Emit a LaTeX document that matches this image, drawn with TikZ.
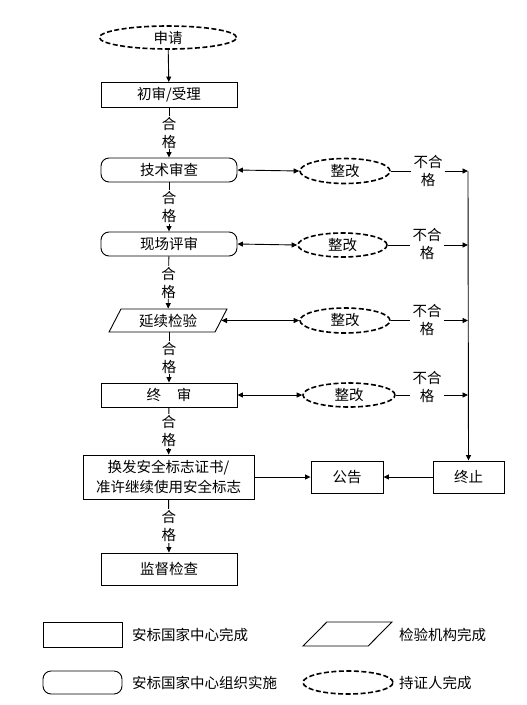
\documentclass[tikz,border=0pt]{standalone}
\usepackage{fontspec}
\newfontfamily\cjk{Noto Sans CJK SC}
\usetikzlibrary{shapes.geometric,arrows.meta}
\tikzset{
  x=1pt,y=-1pt,
  every node/.style={font=\cjk\fontsize{14.5}{18}\selectfont, inner sep=0pt},
  box/.style={draw, line width=0.9pt, rectangle, minimum width=136pt, minimum height=24pt},
  rbox/.style={draw, line width=0.9pt, rectangle, rounded corners=8pt, minimum width=136pt, minimum height=24pt},
  dell/.style={draw, ellipse, line width=1.6pt, dash pattern=on 5pt off 2.5pt, minimum width=90pt, minimum height=24pt},
  para/.style={draw, line width=0.9pt, trapezium, trapezium stretches=true, trapezium left angle=64, trapezium right angle=116, minimum height=23pt, inner sep=1pt},
  conn/.style={line width=0.9pt},
  arr/.style={conn, -{Triangle[length=5.5pt,width=5pt]}},
  darr/.style={conn, {Triangle[length=5.5pt,width=5pt]}-{Triangle[length=5.5pt,width=5pt]}},
  lab/.style={fill=white, align=center, inner sep=1pt},
  nq/.style={align=center, inner sep=2pt},
}
\begin{document}
\begin{tikzpicture}
\useasboundingbox (0,0) rectangle (527,705);
% main column
\node[dell, minimum width=137pt, minimum height=23pt] (apply) at (168,37.5) {申请};
\node[box, minimum height=25pt] (init) at (169,95) {初审/受理};
\node[rbox] (tech) at (169,170) {技术审查};
\node[rbox] (site) at (169,244) {现场评审};
\node[para, minimum width=118pt] (cont) at (168,320.5) {延续检验};
\node[box] (final) at (169,395) {终\hspace{1.1em}审};
\node[box, minimum width=171pt, minimum height=44pt, align=center, font=\cjk\fontsize{14.5}{20}\selectfont] (issue) at (168.5,477) {换发安全标志证书/\\准许继续使用安全标志};
\node[box, minimum height=32pt] (super) at (169,569) {监督检查};
% right side
\node[dell, minimum width=90pt, minimum height=25pt] (fix1) at (345,171) {整改};
\node[dell, minimum width=89pt, minimum height=24pt] (fix2) at (342.5,245) {整改};
\node[dell, minimum width=90pt, minimum height=25pt] (fix3) at (345,320.5) {整改};
\node[dell, minimum width=92pt, minimum height=24pt] (fix4) at (349,395) {整改};
\node[nq] (nq1) at (428,170.5) {不合\\格};
\node[nq] (nq2) at (427,244) {不合\\格};
\node[nq] (nq3) at (427,319.5) {不合\\格};
\node[nq] (nq4) at (427,386.5) {不合\\格};
\node[box, minimum width=72pt, minimum height=32pt] (pub) at (347,477) {公告};
\node[box, minimum width=71pt, minimum height=32pt] (stop) at (468.5,477) {终止};
\coordinate (r1) at (468,171);
\coordinate (r2) at (468,245);
\coordinate (r3) at (468,320.5);
\coordinate (r4) at (468,395);
% connectors
\draw[arr] (apply) -- (init);
\draw[arr] (init) -- node[lab] (g1) {合\\格} (tech);
\draw[arr] (tech) -- node[lab] (g2) {合\\格} (site);
\draw[arr] (site) -- node[lab] (g3) {合\\格} (cont);
\draw[arr] (cont.south -| final) -- node[lab] (g4) {合\\格} (final);
\draw[arr] (final) -- node[lab] (g5) {合\\格} (issue);
\draw[arr] (issue) -- node[lab] (g6) {合\\格} (super);
\draw[darr] (tech.east) -- (fix1.west);
\draw[darr] (site.east) -- (fix2.west);
\draw[darr] (cont.east) -- (fix3.west);
\draw[darr] (final.east) -- (fix4.west);
\draw[conn] (fix1.east) -- (fix1.east -| nq1.west);
\draw[arr] (fix1.east -| nq1.east) -- (r1);
\draw[conn] (fix2.east) -- (fix2.east -| nq2.west);
\draw[arr] (fix2.east -| nq2.east) -- (r2);
\draw[conn] (fix3.east) -- (fix3.east -| nq3.west);
\draw[arr] (fix3.east -| nq3.east) -- (r3);
\draw[conn] (fix4.east) -- (fix4.east -| nq4.west);
\draw[arr] (fix4.east -| nq4.east) -- (r4);
\draw[arr] (r1) -- (stop.north);
\draw[arr] (issue.east |- pub) -- (pub.west);
\draw[arr] (stop.west) -- (pub.east);
% legend
\node[box, minimum width=79pt, minimum height=25pt] (lg1) at (82.5,634.5) {};
\node[anchor=west] (lt1) at (132,634.5) {安标国家中心完成};
\node[para, trapezium left angle=60, trapezium right angle=120, minimum width=89pt, minimum height=24pt] (lg2) at (347.5,634) {};
\node[anchor=west] (lt2) at (399,634.5) {检验机构完成};
\node[rbox, minimum width=79pt, minimum height=23pt] (lg3) at (82.5,682.5) {};
\node[anchor=west] (lt3) at (132,683) {安标国家中心组织实施};
\node[dell, minimum width=90pt, minimum height=23pt] (lg4) at (348,682.5) {};
\node[anchor=west] (lt4) at (399,683) {持证人完成};
\end{tikzpicture}
\end{document}
